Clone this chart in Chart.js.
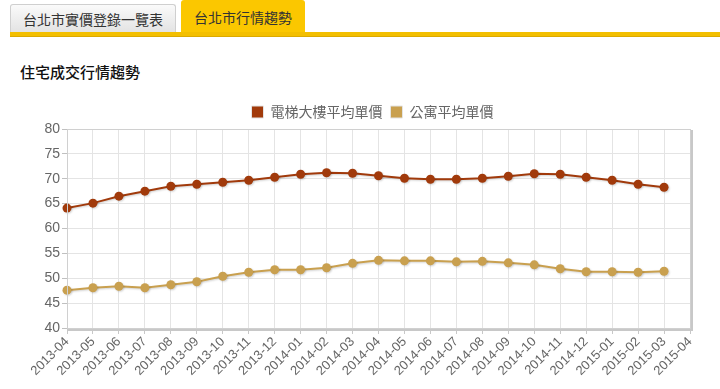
<!DOCTYPE html>
<html>
<head>
<meta charset="utf-8">
<script src="https://cdn.jsdelivr.net/npm/chart.js@4"></script>
<style>
  body { margin: 0; background: #fff; font-family: "Noto Sans CJK TC", "Liberation Sans", sans-serif; }
  #page { position: relative; width: 720px; height: 389px; overflow: hidden; }
  .tab { position: absolute; top: 4px; height: 29px; line-height: 29px; text-align: center;
         font-size: 14px; color: #333; border-radius: 3px 3px 0 0; box-sizing: border-box; }
  #tab1 { left: 10px; width: 166px; background: linear-gradient(#fafafa, #e2e2e2); border: 1px solid #cfcfcf; border-bottom: none; }
  #tab2 { left: 181px; top: 0; width: 124px; height: 33px; line-height: 35px; background: #fbc700; }
  #bar { position: absolute; left: 10px; right: 0; top: 32px; height: 4px; background: #f3bf00; border-bottom: 1px solid #dba900; }
  #title { position: absolute; left: 20px; top: 61px; font-size: 15px; font-weight: 500; color: #111; }
  #box { position: absolute; left: 0; top: 95px; width: 720px; height: 294px; }
</style>
</head>
<body>
<div id="page">
  <div class="tab" id="tab1">台北市實價登錄一覽表</div>
  <div class="tab" id="tab2">台北市行情趨勢</div>
  <div id="bar"></div>
  <div id="title">住宅成交行情趨勢</div>
  <div id="box"><canvas id="trendChart"></canvas></div>
</div>
<script>
// 月份 (最後一個月尚無資料)
const months = ['2013-04', '2013-05', '2013-06', '2013-07', '2013-08', '2013-09', '2013-10',
  '2013-11', '2013-12', '2014-01', '2014-02', '2014-03', '2014-04', '2014-05', '2014-06',
  '2014-07', '2014-08', '2014-09', '2014-10', '2014-11', '2014-12', '2015-01', '2015-02',
  '2015-03', '2015-04'];

// 電梯大樓平均單價 (萬/坪)
const elevatorPrice = [64.1, 65.1, 66.5, 67.5, 68.5, 68.9, 69.3, 69.7, 70.3, 70.9, 71.2, 71.1,
  70.6, 70.1, 69.9, 69.9, 70.1, 70.5, 71.0, 70.9, 70.3, 69.7, 68.9, 68.3];

// 公寓平均單價 (萬/坪)
const apartmentPrice = [47.6, 48.1, 48.4, 48.1, 48.7, 49.3, 50.4, 51.2, 51.7, 51.7, 52.1, 53.0,
  53.6, 53.5, 53.5, 53.3, 53.4, 53.1, 52.7, 51.9, 51.3, 51.3, 51.2, 51.4];

const seriesNames = ['電梯大樓平均單價', '公寓平均單價'];
const seriesColors = ['#a13a0b', '#c9a04f'];

// 線條陰影
const shadowPlugin = {
  id: 'lineShadow',
  beforeDatasetsDraw(chart) {
    const ctx = chart.ctx;
    ctx.save();
    ctx.shadowColor = 'rgba(0,0,0,0.18)';
    ctx.shadowOffsetX = 1;
    ctx.shadowOffsetY = 1;
    ctx.shadowBlur = 2;
  },
  afterDatasetsDraw(chart) {
    chart.ctx.restore();
  }
};

// 圖例置中於繪圖區
const legendShift = {
  id: 'legendShift',
  afterLayout(chart) {
    const lg = chart.legend;
    const a = chart.chartArea;
    const dx = (a.left + a.right) / 2 - (lg.left + lg.right) / 2 - 6;
    lg.left += dx;
    lg.right += dx;
  }
};

// 繪圖區外框
const framePlugin = {
  id: 'plotFrame',
  afterDraw(chart) {
    const { ctx, chartArea: a } = chart;
    ctx.save();
    ctx.strokeStyle = '#d0d0d0';
    ctx.lineWidth = 1;
    ctx.strokeRect(a.left + 0.5, a.top + 0.5, a.right - a.left, a.bottom - a.top);
    ctx.strokeStyle = '#c8c8c8';
    ctx.lineWidth = 2;
    ctx.beginPath();
    ctx.moveTo(a.right + 2, a.top + 1);
    ctx.lineTo(a.right + 2, a.bottom + 2);
    ctx.lineTo(a.left + 1, a.bottom + 2);
    ctx.stroke();
    ctx.restore();
  }
};

const numFont = '"Liberation Sans", Arial, sans-serif';

new Chart(document.getElementById('trendChart'), {
  type: 'line',
  data: {
    labels: months,
    datasets: [
      {
        label: seriesNames[0],
        data: elevatorPrice,
        borderColor: seriesColors[0],
        backgroundColor: seriesColors[0],
        borderWidth: 2,
        pointRadius: 4.5,
        pointHoverRadius: 5,
        pointBorderWidth: 0,
        tension: 0
      },
      {
        label: seriesNames[1],
        data: apartmentPrice,
        borderColor: seriesColors[1],
        backgroundColor: seriesColors[1],
        borderWidth: 2,
        pointRadius: 4.5,
        pointHoverRadius: 5,
        pointBorderWidth: 0,
        tension: 0
      }
    ]
  },
  options: {
    responsive: true,
    maintainAspectRatio: false,
    animation: false,
    layout: { padding: { left: 0, right: 30, top: 2, bottom: 0 } },
    plugins: {
      legend: {
        position: 'top',
        labels: {
          boxWidth: 12,
          boxHeight: 12,
          padding: 8,
          color: '#666',
          font: { family: '"Noto Sans CJK TC", sans-serif', size: 14 },
          generateLabels(chart) {
            return chart.data.datasets.map((ds, i) => ({
              text: ds.label,
              fillStyle: ds.borderColor,
              strokeStyle: '#e4e4e4',
              lineWidth: 1,
              fontColor: '#666',
              datasetIndex: i
            }));
          }
        }
      },
      tooltip: { enabled: true }
    },
    scales: {
      x: {
        offset: false,
        grid: { color: '#e4e4e4', tickLength: 6, tickColor: '#c8c8c8' },
        border: { color: '#c0c0c0' },
        ticks: { color: '#666', font: { family: numFont, size: 13 }, minRotation: 45, maxRotation: 45, padding: 0, autoSkip: false },
        afterFit(scale) { scale.height = 61; }
      },
      y: {
        min: 40,
        max: 80,
        grid: { color: '#e4e4e4', tickLength: 5, tickColor: '#c0c0c0' },
        border: { color: '#c0c0c0' },
        ticks: { stepSize: 5, color: '#666', font: { family: numFont, size: 14 }, padding: 2 },
        afterFit(scale) { scale.width = 67; }
      }
    }
  },
  plugins: [shadowPlugin, legendShift, framePlugin]
});
</script>
</body>
</html>
